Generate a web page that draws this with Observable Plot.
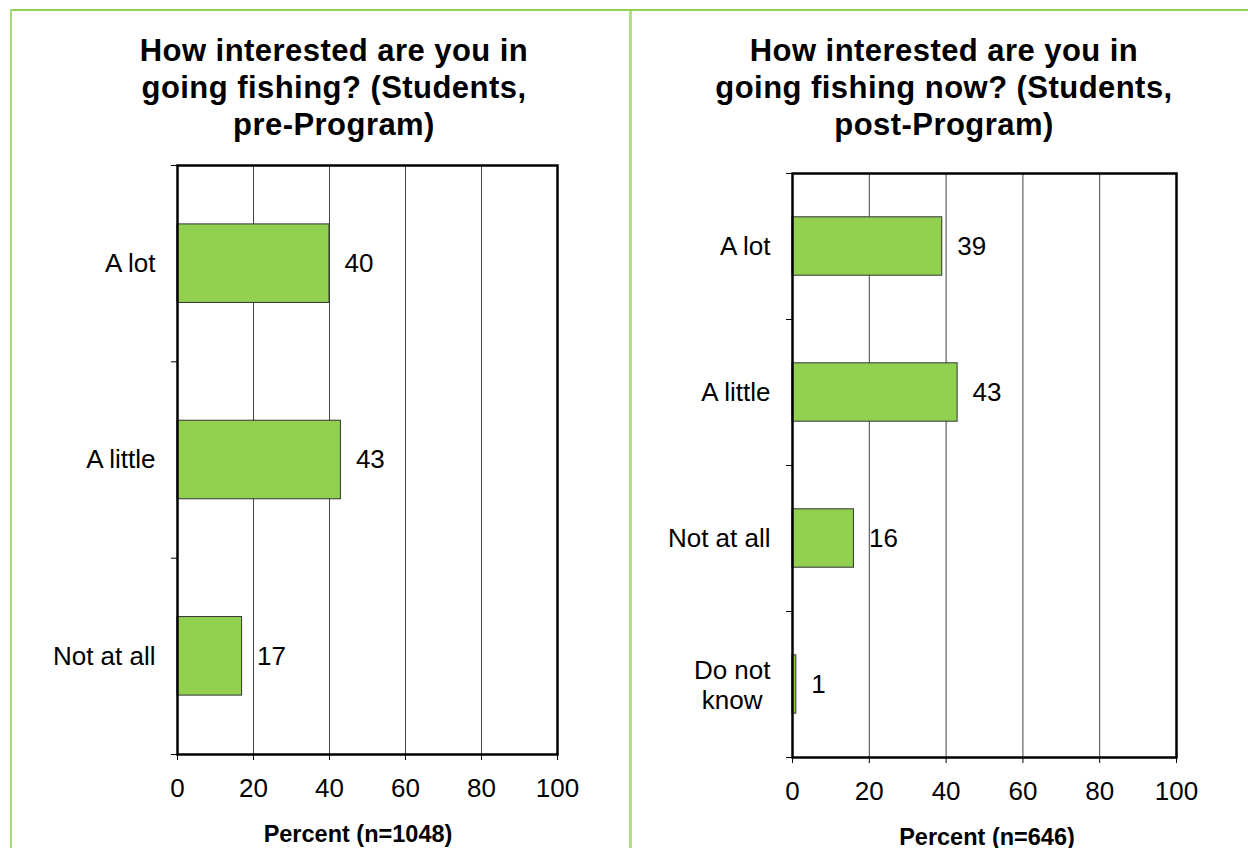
<!DOCTYPE html>
<html>
<head>
<meta charset="utf-8">
<script src="https://cdn.jsdelivr.net/npm/d3@7"></script>
<script src="https://cdn.jsdelivr.net/npm/@observablehq/plot@0.6"></script>
<style>
  html, body { margin: 0; padding: 0; background: #fff; }
  #page { position: relative; width: 1248px; height: 848px; overflow: hidden; font-family: "Liberation Sans", Arial, sans-serif; color: #000; }
  .line { position: absolute; }
  .title { position: absolute; width: 640px; text-align: center; font-weight: bold; font-size: 31px; letter-spacing: 0.45px; line-height: 37px; }
  .axtitle { position: absolute; width: 400px; text-align: center; font-weight: bold; font-size: 23.5px; line-height: 24px; }
  .chart { position: absolute; }
</style>
</head>
<body>
<div id="page">
  <div class="line" style="left:11px;top:9px;width:1237px;height:2px;background:#92d050;"></div>
  <div class="line" style="left:10px;top:9px;width:2px;height:839px;background:#a8dc78;"></div>
  <div class="line" style="left:629px;top:11px;width:3px;height:837px;background:#b0e083;"></div>

  <div class="title" style="left:14px;top:32px;">How interested are you in<br>going fishing? (Students,<br>pre-Program)</div>
  <div class="title" style="left:624px;top:32px;">How interested are you in<br>going fishing now? (Students,<br>post-Program)</div>

  <div class="chart" id="left" style="left:0px;top:140px;"></div>
  <div class="chart" id="right" style="left:630px;top:140px;"></div>

  <div class="axtitle" style="left:158px;top:822px;">Percent (n=1048)</div>
  <div class="axtitle" style="left:787px;top:825px;">Percent (n=646)</div>
</div>
<script>
// ---- data ----
const preCategories = ["A lot", "A little", "Not at all"];
const preValues = [40, 43, 17];
const postCategories = ["A lot", "A little", "Not at all", "Do not\nknow"];
const postValues = [39, 43, 16, 1];
const xTicks = [0, 20, 40, 60, 80, 100];
const gridTicks = [20, 40, 60, 80];

const FONT = "Liberation Sans, Arial, sans-serif";
const ctx = document.createElement("canvas").getContext("2d");
ctx.font = "26px " + FONT;
function maxLineWidth(s) { return d3.max(s.split("\n"), l => ctx.measureText(l).width); }

function chart(categories, values, dims) {
  const rows = categories.map((c, i) => ({cat: c, value: values[i], idx: i, multi: c.includes("\n")}));
  const n = categories.length;
  const bounds = d3.range(n + 1);
  const single = rows.filter(d => !d.multi);
  const multi = rows.filter(d => d.multi);
  return Plot.plot({
    width: dims.width,
    height: dims.height,
    marginLeft: dims.ml,
    marginRight: dims.mr,
    marginTop: dims.mt,
    marginBottom: dims.mb,
    style: {fontFamily: FONT, fontSize: "26px", color: "#000", background: "transparent", overflow: "visible"},
    x: {domain: [0, 100]},
    y: {domain: [n, 0]},
    marks: [
      Plot.ruleX(gridTicks, {stroke: "#444", strokeWidth: 1}),
      Plot.rect(rows, {x1: 0, x2: "value", y1: d => d.idx + 0.3, y2: d => d.idx + 0.7, fill: "#92d050", stroke: "#333", strokeWidth: 1}),
      Plot.text(rows, {x: "value", y: d => d.idx + 0.5, text: d => String(d.value), textAnchor: "start", dx: 15, fontSize: 26, fill: "#000"}),
      Plot.axisY({ticks: bounds, tickSize: 6, tickFormat: () => "", label: null, stroke: "#000"}),
      Plot.text(single, {x: 0, y: d => d.idx + 0.5, text: "cat", textAnchor: "end", dx: -22, fontSize: 26, fill: "#000"}),
      ...multi.map(d => Plot.text([d], {x: 0, y: d.idx + 0.5, text: "cat", textAnchor: "middle", dx: -22 - maxLineWidth(d.cat) / 2, lineHeight: 1.17, fontSize: 26, fill: "#000"})),
      Plot.axisX({ticks: xTicks, tickSize: 6, tickPadding: 18, label: null, fontSize: 26, stroke: "#000"}),
      Plot.frame({stroke: "#000", strokeWidth: 2.5})
    ]
  });
}

document.getElementById("left").appendChild(chart(preCategories, preValues, {width: 630, height: 708, ml: 177, mr: 73, mt: 25, mb: 94}));
document.getElementById("right").appendChild(chart(postCategories, postValues, {width: 618, height: 708, ml: 162, mr: 72, mt: 33, mb: 91}));
</script>
</body>
</html>
